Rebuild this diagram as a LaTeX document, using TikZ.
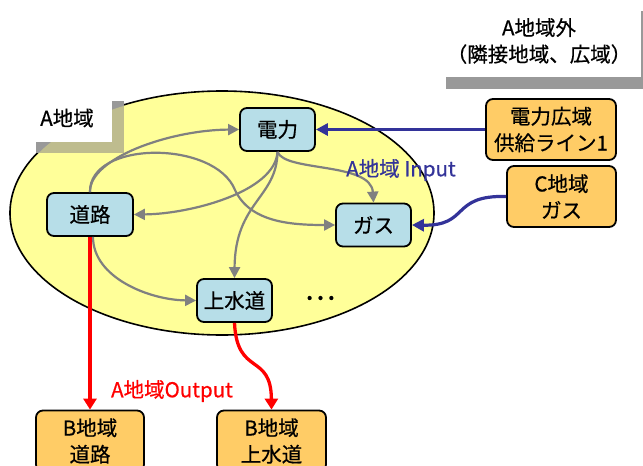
\documentclass[tikz,border=0pt]{standalone}
\usepackage{fontspec}
\setmainfont{Noto Sans CJK JP}[FakeBold=0.6]
\usetikzlibrary{arrows.meta}
\definecolor{tealbox}{HTML}{B7DEE8}
\definecolor{orangebox}{HTML}{FFCC66}
\definecolor{ellyellow}{HTML}{FFFF99}
\definecolor{inblue}{HTML}{333399}
\definecolor{outred}{HTML}{FF0000}
\definecolor{arrgray}{HTML}{808080}
\definecolor{shadowgray}{HTML}{999999}
\definecolor{shadowkhaki}{HTML}{BEBC8E}
\tikzset{
  sector/.style={draw=black, line width=1.8pt, rounded corners=7pt, fill=tealbox,
    minimum width=75pt, minimum height=43pt, inner sep=0pt, align=center},
  outer/.style={draw=black, line width=1.8pt, rounded corners=7pt, fill=orangebox,
    minimum height=61pt, inner sep=0pt, align=center},
  graylink/.style={draw=arrgray, line width=2.2pt, -{Triangle[length=11pt,width=11pt]}},
  bluelink/.style={draw=inblue, line width=3.2pt, -{Triangle[length=12pt,width=12pt]}},
  redlink/.style={draw=outred, line width=3.3pt, -{Triangle[length=11pt,width=13pt]}},
  plainlabel/.style={inner sep=0pt, align=center}
}
\begin{document}
\begin{tikzpicture}[x=1pt,y=-1pt, font=\fontsize{20.5}{26.5}\selectfont]
\useasboundingbox (0,0) rectangle (643,466);
\clip (0,0) rectangle (643,466);
% region A ellipse
\path[fill=ellyellow, draw=black, line width=1.6pt] (222,213) ellipse [x radius=212pt, y radius=122pt];
% shadow of the "A地域" label box
\fill[shadowgray] (36,101) rectangle (124,153);
\begin{scope}
  \clip (222,213) ellipse [x radius=211pt, y radius=121pt];
  \fill[shadowkhaki] (36,101) rectangle (124,153);
\end{scope}
\fill[white] (24,90) rectangle (112,142);
\node[plainlabel] (alabel) at (67,118) {A地域};
% outside-region box
\fill[shadowgray] (446,11) rectangle (653,89);
\fill[white] (434,-1) rectangle (641,77);
\node[plainlabel] (outlabel) at (539,41) {A地域外\\（隣接地域、広域）};
% sector nodes
\node[sector] (denryoku) at (277.5,129.5) {電力};
\node[sector, minimum width=86pt] (doro) at (90,214.5) {道路};
\node[sector] (josuido) at (234.5,300.5) {上水道};
\node[sector] (gas) at (373.5,225) {ガス};
\node[plainlabel, font=\fontsize{29}{29}\selectfont] (dots) at (320,298) {…};
% outside supply nodes
\node[outer, minimum width=130pt] (kouiki) at (551,129.5) {電力広域\\供給ライン1};
\node[outer, minimum width=109pt] (cgas) at (561.5,196.5) {C地域\\ガス};
\node[outer, minimum width=108pt] (bdoro) at (90,441) {B地域\\道路};
\node[outer, minimum width=109pt] (bjosui) at (271.5,441) {B地域\\上水道};
% gray dependencies inside region A
\draw[graylink] (doro.north) .. controls (89,158) and (170,130) .. (denryoku.west);
\draw[graylink] (doro.north) .. controls (89,140) and (215,140) .. (235,190)
   .. controls (250,222) and (290,225) .. (gas.west);
\draw[graylink] (denryoku.south) .. controls (275,192) and (190,214) .. (doro.east);
\draw[graylink] (denryoku.south) .. controls (277,198) and (235,202) .. (josuido.north);
\draw[graylink] (denryoku.south) .. controls (285,172) and (371,162) .. (gas.north);
\draw[graylink] ([xshift=3pt]doro.south) .. controls (93,278) and (150,300) .. (josuido.west);
% inputs
\draw[bluelink] (kouiki.west) -- (denryoku.east);
\draw[bluelink] (cgas.west) .. controls (450,195) and (470,226) .. (gas.east);
\node[plainlabel, text=inblue] (inlabel) at (401,170) {A地域 Input};
% outputs
\draw[redlink] (doro.south) -- (bdoro.north);
\draw[redlink] (josuido.south) .. controls (237,377) and (271,352) .. (bjosui.north);
\node[plainlabel, text=outred] (outlbl) at (172,391) {A地域Output};
\end{tikzpicture}
\end{document}
